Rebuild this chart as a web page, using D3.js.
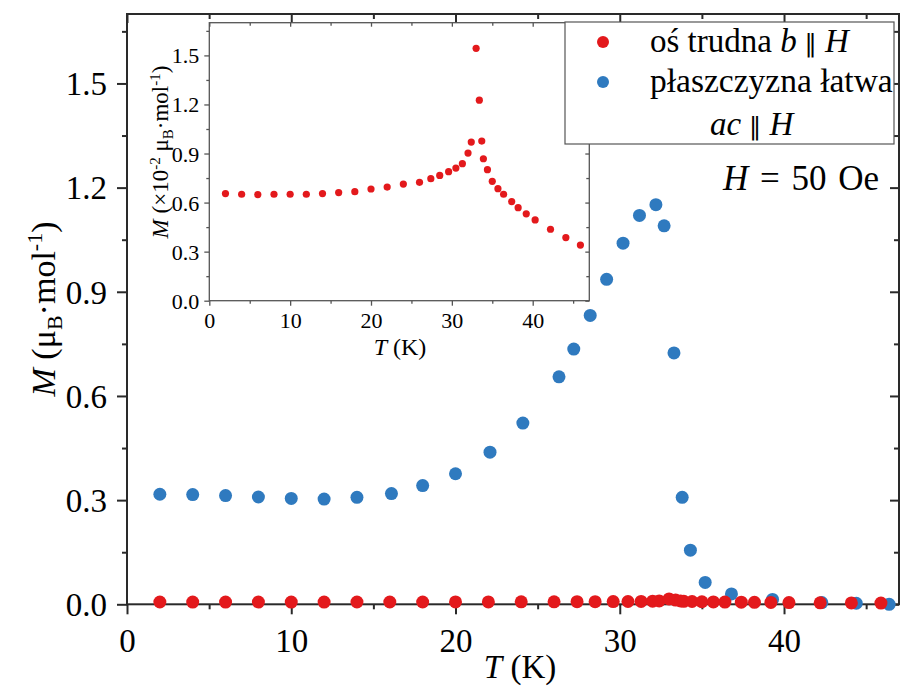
<!DOCTYPE html>
<html>
<head>
<meta charset="utf-8">
<script src="https://cdn.jsdelivr.net/npm/d3@7/dist/d3.min.js"></script>
<style>
  body { margin: 0; background: #fff; }
  svg { display: block; font-family: "Liberation Serif", "Times New Roman", serif; }
</style>
</head>
<body>
<svg id="chart" width="901" height="687"></svg>
<script>
// Hard axis b || H : temperature (K) and magnetisation (x10^-2 muB/mol)
const tempHard = [2, 4, 6, 8, 10, 12, 14, 16, 18, 20, 22, 24, 26, 27.4, 28.5, 29.6, 30.5, 31.3, 32.0, 32.4,
                  33.0, 33.4, 33.7, 33.9, 34.4, 35.0, 35.7, 36.4, 37.4, 38.2, 39.2, 40.3, 42.2, 44.1, 45.9];
const magHard  = [0.655, 0.651, 0.649, 0.651, 0.651, 0.651, 0.655, 0.661, 0.667, 0.683, 0.695, 0.713, 0.724, 0.746,
                  0.766, 0.789, 0.811, 0.838, 0.903, 0.970, 1.543, 1.226, 0.976, 0.868, 0.801, 0.730, 0.685, 0.651,
                  0.606, 0.569, 0.531, 0.494, 0.437, 0.386, 0.340];

// Easy plane ac || H : temperature (K) and magnetisation (muB/mol)
const tempEasy = [2, 4, 6, 8, 10, 12, 14, 16.1, 18, 20, 22.1, 24.1, 26.3, 27.2, 28.2, 29.2, 30.2, 31.2, 32.2, 32.7,
                  33.3, 33.8, 34.3, 35.2, 36.8, 39.3, 42.3, 44.4, 46.4];
const magEasy  = [0.317, 0.316, 0.313, 0.309, 0.305, 0.303, 0.308, 0.319, 0.342, 0.376, 0.438, 0.522, 0.655, 0.735,
                  0.832, 0.936, 1.040, 1.120, 1.151, 1.090, 0.724, 0.308, 0.156, 0.063, 0.030, 0.014, 0.005, 0.003, 0.0];

const xTickValues = [0, 10, 20, 30, 40];
const xMinorValues = [5, 15, 25, 35, 45];
const yTickValues = [0, 0.3, 0.6, 0.9, 1.2, 1.5];
const yMinorValues = [0.15, 0.45, 0.75, 1.05, 1.35, 1.65];

const seriesNames = ["oś trudna", "płaszczyzna łatwa"];

const RED = "#e3191c";
const BLUE = "#2f7abf";
const AXIS = "#2a2a2a";

const svg = d3.select("#chart");
svg.append("rect").attr("width", 901).attr("height", 687).attr("fill", "#fff");

// ---------- main panel ----------
const x = d3.scaleLinear().domain([0, 47]).range([127, 899]);
const y = d3.scaleLinear().domain([0, 1.7]).range([604.3, 14]);

function tickGroup(parent, axis, tf, color, width) {
  const g = parent.append("g").attr("transform", tf).call(axis)
    .attr("font-family", null).attr("font-size", null);
  g.select(".domain").remove();
  g.selectAll(".tick line").attr("stroke", color).attr("stroke-width", width);
  return g;
}

const main = svg.append("g");

// bottom (outward)
const bx = tickGroup(main, d3.axisBottom(x).tickValues(xTickValues).tickSize(10).tickFormat(d3.format("d")),
  `translate(0,${y(0)})`, AXIS, 2);
bx.selectAll("text").attr("y", 48).attr("dy", null).attr("font-size", 33).attr("fill", "#000");
tickGroup(main, d3.axisBottom(x).tickValues(xMinorValues).tickSize(5).tickFormat(""), `translate(0,${y(0)})`, AXIS, 2);
// top (inward)
tickGroup(main, d3.axisTop(x).tickValues(xTickValues).tickSize(-9).tickFormat(""), `translate(0,${y(1.7)})`, AXIS, 2);
tickGroup(main, d3.axisTop(x).tickValues(xMinorValues).tickSize(-5).tickFormat(""), `translate(0,${y(1.7)})`, AXIS, 2);
// left (outward)
const ly = tickGroup(main, d3.axisLeft(y).tickValues(yTickValues).tickSize(10).tickFormat(d3.format(".1f")),
  `translate(${x(0)},0)`, AXIS, 2);
ly.selectAll("text").attr("x", -20).attr("dy", "0.34em").attr("font-size", 33).attr("fill", "#000");
tickGroup(main, d3.axisLeft(y).tickValues(yMinorValues).tickSize(5).tickFormat(""), `translate(${x(0)},0)`, AXIS, 2);
// right (inward)
tickGroup(main, d3.axisRight(y).tickValues(yTickValues).tickSize(-9).tickFormat(""), `translate(${x(47)},0)`, AXIS, 2);
tickGroup(main, d3.axisRight(y).tickValues(yMinorValues).tickSize(-5).tickFormat(""), `translate(${x(47)},0)`, AXIS, 2);

main.append("rect")
  .attr("x", x(0)).attr("y", y(1.7)).attr("width", x(47) - x(0)).attr("height", y(0) - y(1.7))
  .attr("fill", "none").attr("stroke", AXIS).attr("stroke-width", 2);

// data: easy plane first, hard axis on top
main.append("g").selectAll("circle").data(d3.zip(tempEasy, magEasy)).join("circle")
  .attr("cx", d => x(d[0])).attr("cy", d => y(d[1])).attr("r", 6.5).attr("fill", BLUE);
main.append("g").selectAll("circle").data(d3.zip(tempHard, magHard)).join("circle")
  .attr("cx", d => x(d[0])).attr("cy", d => y(d[1] / 100)).attr("r", 6.5).attr("fill", RED);

// axis titles
const xt = main.append("text").attr("x", 520).attr("y", 678).attr("text-anchor", "middle").attr("font-size", 33);
xt.append("tspan").attr("font-style", "italic").text("T");
xt.append("tspan").text(" (K)");

const yt = main.append("text").attr("transform", "translate(55,309) rotate(-90)")
  .attr("text-anchor", "middle").attr("font-size", 34);
yt.append("tspan").attr("font-style", "italic").text("M");
yt.append("tspan").text(" (μ");
yt.append("tspan").attr("font-size", 22).attr("dy", 7).text("B");
yt.append("tspan").attr("dy", -7).text("·mol");
yt.append("tspan").attr("font-size", 22).attr("dy", -13).text("-1");
yt.append("tspan").attr("dy", 13).text(")");

// ---------- inset ----------
const ix = d3.scaleLinear().domain([0, 47]).range([209.3, 589.3]);
const iy = d3.scaleLinear().domain([0, 1.7]).range([300.7, 22.7]);
const inset = svg.append("g");
const IAX = "#555";

inset.append("rect")
  .attr("x", ix(0)).attr("y", iy(1.7)).attr("width", ix(47) - ix(0)).attr("height", iy(0) - iy(1.7))
  .attr("fill", "#fff");

const ibx = tickGroup(inset, d3.axisBottom(ix).tickValues(xTickValues).tickSize(5).tickFormat(d3.format("d")),
  `translate(0,${iy(0)})`, IAX, 1.3);
ibx.selectAll("text").attr("y", 27.5).attr("dy", null).attr("font-size", 22).attr("fill", "#000");
tickGroup(inset, d3.axisBottom(ix).tickValues(xMinorValues).tickSize(3).tickFormat(""), `translate(0,${iy(0)})`, IAX, 1.3);
tickGroup(inset, d3.axisTop(ix).tickValues(xTickValues).tickSize(-4).tickFormat(""), `translate(0,${iy(1.7)})`, IAX, 1.3);
tickGroup(inset, d3.axisTop(ix).tickValues(xMinorValues).tickSize(-3).tickFormat(""), `translate(0,${iy(1.7)})`, IAX, 1.3);
const ily = tickGroup(inset, d3.axisLeft(iy).tickValues(yTickValues).tickSize(5).tickFormat(d3.format(".1f")),
  `translate(${ix(0)},0)`, IAX, 1.3);
ily.selectAll("text").attr("x", -10).attr("dy", "0.34em").attr("font-size", 22).attr("fill", "#000");
tickGroup(inset, d3.axisLeft(iy).tickValues(yMinorValues).tickSize(3).tickFormat(""), `translate(${ix(0)},0)`, IAX, 1.3);
tickGroup(inset, d3.axisRight(iy).tickValues(yTickValues).tickSize(-4).tickFormat(""), `translate(${ix(47)},0)`, IAX, 1.3);
tickGroup(inset, d3.axisRight(iy).tickValues(yMinorValues).tickSize(-3).tickFormat(""), `translate(${ix(47)},0)`, IAX, 1.3);

inset.append("rect")
  .attr("x", ix(0)).attr("y", iy(1.7)).attr("width", ix(47) - ix(0)).attr("height", iy(0) - iy(1.7))
  .attr("fill", "none").attr("stroke", IAX).attr("stroke-width", 1.3);

inset.append("g").selectAll("circle").data(d3.zip(tempHard, magHard)).join("circle")
  .attr("cx", d => ix(d[0])).attr("cy", d => iy(d[1])).attr("r", 3.6).attr("fill", RED);

const ixt = inset.append("text").attr("x", 400).attr("y", 355).attr("text-anchor", "middle").attr("font-size", 24);
ixt.append("tspan").attr("font-style", "italic").text("T");
ixt.append("tspan").text(" (K)");

const iyt = inset.append("text").attr("transform", "translate(168,152) rotate(-90)")
  .attr("text-anchor", "middle").attr("font-size", 23);
iyt.append("tspan").attr("font-style", "italic").text("M");
iyt.append("tspan").text(" (×10");
iyt.append("tspan").attr("font-size", 15).attr("dy", -8).text("-2");
iyt.append("tspan").attr("dy", 8).text(" μ");
iyt.append("tspan").attr("font-size", 15).attr("dy", 5).text("B");
iyt.append("tspan").attr("dy", -5).text("·mol");
iyt.append("tspan").attr("font-size", 15).attr("dy", -8).text("-1");
iyt.append("tspan").attr("dy", 8).text(")");

// ---------- legend ----------
const lg = svg.append("g");
lg.append("rect").attr("x", 565).attr("y", 22).attr("width", 329).attr("height", 122)
  .attr("fill", "#fff").attr("stroke", "#555").attr("stroke-width", 1.2);
lg.append("circle").attr("cx", 603).attr("cy", 42).attr("r", 6).attr("fill", RED);
lg.append("circle").attr("cx", 603).attr("cy", 82).attr("r", 6).attr("fill", BLUE);

const l1 = lg.append("text").attr("x", 650).attr("y", 52).attr("font-size", 33);
l1.append("tspan").text(seriesNames[0] + " ");
l1.append("tspan").attr("font-style", "italic").text("b");
l1.append("tspan").attr("font-size", 25).attr("font-family", "DejaVu Sans").text(" ∥ ");
l1.append("tspan").attr("font-style", "italic").text("H");

lg.append("text").attr("x", 650).attr("y", 92).attr("font-size", 33.5).text(seriesNames[1]);

const l3 = lg.append("text").attr("x", 710).attr("y", 135).attr("font-size", 33);
l3.append("tspan").attr("font-style", "italic").text("ac");
l3.append("tspan").attr("font-size", 25).attr("font-family", "DejaVu Sans").text(" ∥ ");
l3.append("tspan").attr("font-style", "italic").text("H");

// field annotation
const ha = svg.append("text").attr("x", 723).attr("y", 190).attr("font-size", 35)
  .attr("word-spacing", 3);
ha.append("tspan").attr("font-style", "italic").text("H");
ha.append("tspan").text(" = 50 Oe");
</script>
</body>
</html>
